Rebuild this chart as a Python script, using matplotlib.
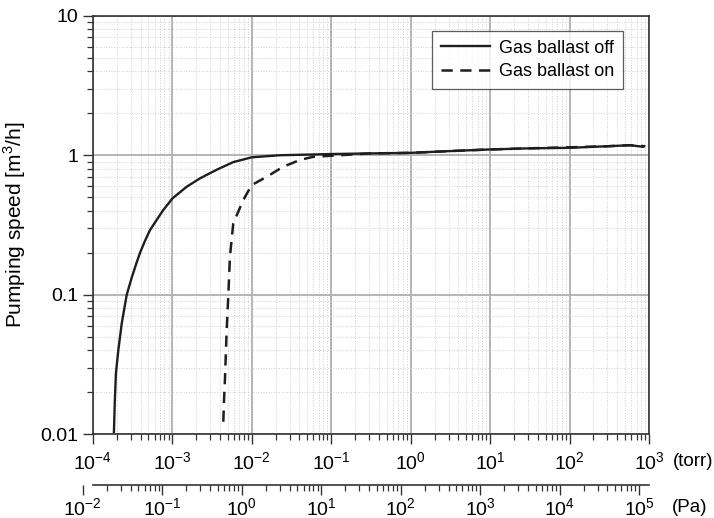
import numpy as np
import matplotlib
matplotlib.use("Agg")
import matplotlib.pyplot as plt
from matplotlib.ticker import LogLocator, FuncFormatter, NullFormatter

plt.rcParams['font.family'] = ['Liberation Sans', 'DejaVu Sans']
plt.rcParams['mathtext.fontset'] = 'custom'
plt.rcParams['mathtext.rm'] = 'Liberation Sans'

PA_PER_TORR = 133.322

# pumping speed curves, pressure in torr, speed in m3/h
p_off = [1.85e-4, 1.9e-4, 1.96e-4, 2.1e-4, 2.32e-4, 2.68e-4, 3.1e-4, 3.57e-4,
         3.94e-4, 4.5e-4, 5.26e-4, 7.73e-4, 1.01e-3, 1.52e-3, 2.24e-3, 3.63e-3,
         5.87e-3, 1e-2, 2.27e-2, 5e-2, 1e-1, 0.3, 1.0, 3.0, 10.0,
         30.0, 100.0, 300.0, 575.0, 841.0]
s_off = [0.0104, 0.0176, 0.0274, 0.040, 0.0624, 0.1, 0.133, 0.17,
         0.20, 0.24, 0.291, 0.405, 0.491, 0.594, 0.683, 0.787,
         0.893, 0.966, 1.0, 1.01, 1.02, 1.03, 1.04, 1.07, 1.10,
         1.12, 1.13, 1.16, 1.18, 1.15]

p_on = [4.40e-3, 4.5e-3, 4.61e-3, 4.85e-3, 5.08e-3, 5.33e-3, 5.87e-3,
        7.84e-3, 1e-2, 1.55e-2, 2.5e-2, 4.06e-2, 5.96e-2, 1.29e-1, 0.3, 1.0, 3.0,
        10.0, 30.0, 100.0, 300.0, 575.0, 900.0]
s_on = [0.0123, 0.018, 0.0245, 0.0558, 0.097, 0.187, 0.325,
        0.477, 0.611, 0.701, 0.828, 0.925, 0.975, 1.0, 1.03, 1.04, 1.07,
        1.10, 1.12, 1.14, 1.16, 1.18, 1.16]

W, H = 714, 518
fig = plt.figure(figsize=(W / 100, H / 100), dpi=100)
x0, x1, y0, y1 = 92.7, 649.0, 15.7, 434.3
ax = fig.add_axes([x0 / W, 1 - y1 / H, (x1 - x0) / W, (y1 - y0) / H])

ax.plot(p_off, s_off, color='#1e1e1e', lw=1.7, label='Gas ballast off')
ax.plot(p_on, s_on, color='#1e1e1e', lw=1.8, dashes=(4.5, 3), label='Gas ballast on')

ax.set_xscale('log')
ax.set_yscale('log')
ax.set_xlim(1e-4, 1e3)
ax.set_ylim(1e-2, 10)

ax.xaxis.set_major_locator(LogLocator(base=10, numticks=20))
ax.xaxis.set_minor_locator(LogLocator(base=10, subs=np.arange(2, 10), numticks=20))
ax.yaxis.set_major_locator(LogLocator(base=10, numticks=20))
ax.yaxis.set_minor_locator(LogLocator(base=10, subs=np.arange(2, 10), numticks=20))
ax.yaxis.set_major_formatter(FuncFormatter(lambda v, p: '%g' % v))
ax.yaxis.set_minor_formatter(NullFormatter())
ax.xaxis.set_minor_formatter(NullFormatter())

ax.tick_params(which='major', direction='out', length=7, width=1.0, labelsize=14, color='#333333')
ax.tick_params(which='minor', direction='out', length=4, width=0.9, color='#333333')
ax.tick_params(axis='x', which='major', pad=5)

ax.grid(which='major', color='#b4b4b4', lw=1.4, ls='-')
ax.grid(which='minor', color='#cfcfcf', lw=0.7, ls=':')
ax.set_axisbelow(True)
for sp in ax.spines.values():
    sp.set_color('#333333')
    sp.set_linewidth(1.2)

ax.set_ylabel('Pumping speed [m$^3$/h]', fontsize=15, labelpad=9)
ax.text(1.043, -0.065, '(torr)', transform=ax.transAxes, fontsize=13.5, va='center', ha='left')

leg = ax.legend(loc='upper right', bbox_to_anchor=(0.953, 0.964), borderaxespad=0, fontsize=13,
                frameon=True, fancybox=False, edgecolor='#333333',
                handlelength=2.7, borderpad=0.5, labelspacing=0.35, handletextpad=0.5)
leg.get_frame().set_linewidth(0.9)

# pressure axis in Pa below the torr axis
xpa0 = x0 - 0.125 * (x1 - x0) / 7
ya = 485.0
axp = fig.add_axes([xpa0 / W, 1 - ya / H, (x1 - xpa0) / W, 0.0001])
axp.set_xscale('log')
axp.set_xlim(1e-2, 1e3 * PA_PER_TORR)
axp.patch.set_visible(False)
for k in ('top', 'left', 'right'):
    axp.spines[k].set_visible(False)
axp.spines['bottom'].set_bounds(1e-4 * PA_PER_TORR, 1e3 * PA_PER_TORR)
axp.spines['bottom'].set_color('#333333')
axp.spines['bottom'].set_linewidth(1.2)
axp.set_yticks([])
axp.xaxis.set_major_locator(LogLocator(base=10, numticks=20))
axp.xaxis.set_minor_locator(LogLocator(base=10, subs=np.arange(2, 10), numticks=20))
axp.xaxis.set_minor_formatter(NullFormatter())
axp.tick_params(which='major', direction='out', length=7, width=1.0, labelsize=14, color='#333333', pad=2)
axp.tick_params(which='minor', direction='out', length=4, width=0.9, color='#333333')
fig.text(672 / W, 1 - 507 / H, '(Pa)', fontsize=13.5, va='center', ha='left')

fig.savefig('out.png', dpi=100)
